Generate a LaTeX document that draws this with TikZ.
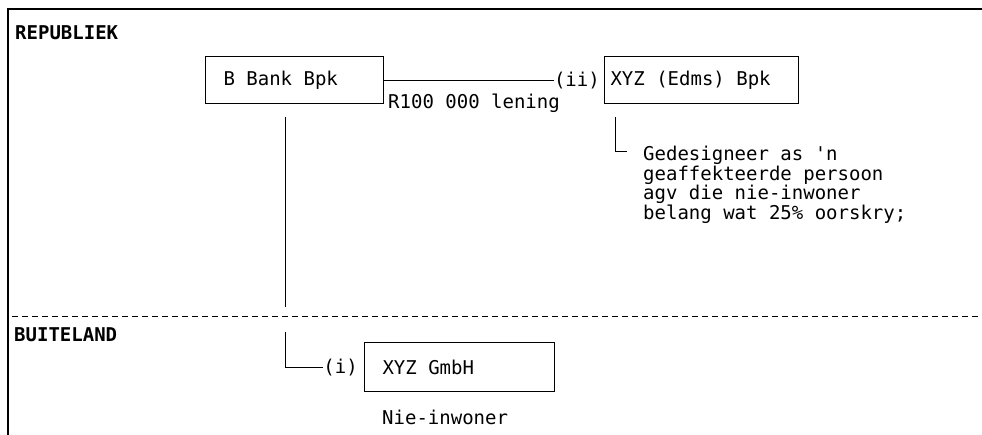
\documentclass[tikz,border=0pt]{standalone}
\usepackage{fontspec}
\setmonofont{DejaVu Sans Mono}
\usepackage{tikz}
\usetikzlibrary{positioning}

\newcommand{\doctext}{\ttfamily\fontsize{19}{18}\selectfont}

\begin{document}
\begin{tikzpicture}[
    x=1pt, y=1pt,
    box/.style={rectangle, draw, line width=1pt, minimum height=47pt, inner ysep=0pt, align=flush left, anchor=west, font=\doctext},
    lbl/.style={inner sep=0pt, font=\doctext},
    head/.style={inner sep=0pt, anchor=west, font=\doctext\bfseries},
    link/.style={line width=1pt}
]
    \useasboundingbox (0,0) rectangle (982,435);

    % frame and border between the two areas
    \draw[line width=1.6pt] (8,0) -- (8,426) -- (982,426);
    \coordinate (border-l) at (12,118);
    \coordinate (border-r) at (982,118);
    \draw[link, dash pattern=on 6pt off 4pt] (border-l) -- (border-r);

    % Republiek
    \node[head] (rep) at (15,402) {REPUBLIEK};
    \node[box, inner xsep=18pt, text width=142pt] (bank) at (205,354.5) {B Bank Bpk};
    \node[box, inner xsep=6pt, text width=182pt] (xyz) at (604,354.5) {XYZ (Edms) Bpk};
    \node[lbl, anchor=east, xshift=-4pt] (ii) at (xyz.west) {(ii)};
    \node[lbl, anchor=base west, xshift=4pt, yshift=-4.5pt] (loan) at (bank.south east) {R100 000 lening};
    \node[lbl, anchor=north west, align=left] (note) at (643,289) {Gedesigneer as 'n\\geaffekteerde persoon\\agv die nie-inwoner\\belang wat 25\% oorskry;};

    % Buiteland
    \node[head] (buit) at (14,100) {BUITELAND};
    \node[box, minimum height=49pt, inner xsep=18pt, text width=154pt] (gmbh) at (364,67.5) {XYZ GmbH};
    \node[lbl, anchor=east, xshift=-6pt] (i) at (gmbh.west) {(i)};
    \node[lbl, anchor=west] (res) at (382,18) {Nie-inwoner};

    % connectors
    \coordinate (bank-top) at (285,318);
    \coordinate (bank-mid) at (285,128);
    \coordinate (bank-low) at (285,103);
    \coordinate (xyz-top) at (615,318);
    \coordinate (xyz-end) at (627,283);
    \draw[link] (bank.east) -- (ii.west);
    \draw[link] (bank-top) -- (bank-mid);
    \draw[link] (bank-low) |- (i.west);
    \draw[link] (xyz-top) |- (xyz-end);
\end{tikzpicture}
\end{document}
